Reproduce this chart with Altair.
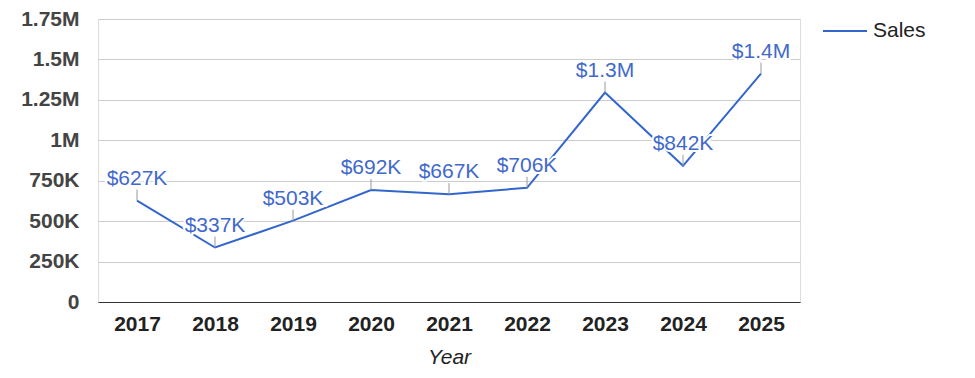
import altair as alt
import pandas as pd

years = ["2017", "2018", "2019", "2020", "2021", "2022", "2023", "2024", "2025"]
sales = [627000, 337000, 503000, 692000, 667000, 706000, 1295000, 842000, 1412000]
labels = ["$627K", "$337K", "$503K", "$692K", "$667K", "$706K", "$1.3M", "$842K", "$1.4M"]
series = ["Sales"] * len(years)
y_ticks = [0, 250000, 500000, 750000, 1000000, 1250000, 1500000, 1750000]

df = pd.DataFrame({"year": years, "sales": sales, "label": labels, "series": series})

FONT = "Liberation Sans"
BLUE = "#3366cc"

x_enc = alt.X(
    "year:O",
    scale=alt.Scale(type="point", padding=0.5),
    axis=alt.Axis(
        title="Year",
        titleFont=FONT,
        titleFontSize=21,
        titleFontStyle="italic",
        titleFontWeight="normal",
        titleColor="#222222",
        titlePadding=12,
        labelFont=FONT,
        labelFontSize=21,
        labelFontWeight="bold",
        labelColor="#222222",
        labelAngle=0,
        labelPadding=11,
        ticks=False,
        domain=True,
        domainColor="#333333",
        domainWidth=1,
        grid=False,
    ),
)
y_enc = alt.Y(
    "sales:Q",
    scale=alt.Scale(domain=[0, 1750000], nice=False, zero=True),
    axis=alt.Axis(
        title=None,
        values=y_ticks,
        labelExpr="datum.value == 0 ? '0' : (datum.value < 1000000 ? format(datum.value / 1000, 'd') + 'K' : format(datum.value / 1000000, '~g') + 'M')",
        labelFont=FONT,
        labelFontSize=21,
        labelFontWeight="bold",
        labelColor="#444444",
        labelPadding=19,
        ticks=False,
        domain=False,
        grid=True,
        gridColor="#cccccc",
        gridWidth=1,
    ),
)

base = alt.Chart(df).encode(x=x_enc, y=y_enc)

line = base.mark_line(strokeWidth=2).encode(
    color=alt.Color(
        "series:N",
        scale=alt.Scale(range=[BLUE]),
        legend=alt.Legend(
            title=None,
            orient="none",
            legendX=724,
            legendY=-11,
            symbolType="stroke",
            symbolSize=1936,
            symbolStrokeWidth=2,
            labelFont=FONT,
            labelFontSize=21,
            labelColor="#222222",
            labelOffset=5,
            padding=0,
        ),
    )
)

leaders = base.mark_rule(color="#999999", strokeWidth=1, y2Offset=-11).encode(y2="sales:Q")

halo = base.mark_text(
    dy=-16, baseline="alphabetic", align="center", font=FONT, fontSize=21,
    color="white", stroke="white", strokeWidth=4,
).encode(text="label:N")

text = base.mark_text(
    dy=-16, baseline="alphabetic", align="center", font=FONT, fontSize=21,
    color="#4169cc",
).encode(text="label:N")

chart = (
    alt.layer(line, leaders, halo, text)
    .properties(
        width=702,
        height=283,
        autosize=alt.AutoSizeParams(type="none"),
        padding={"left": 98, "top": 19, "right": 175, "bottom": 76},
    )
    .configure_view(stroke=None)
    .configure(background="white")
)

chart.save("out.html", embed_options={"renderer": "svg", "actions": False})
